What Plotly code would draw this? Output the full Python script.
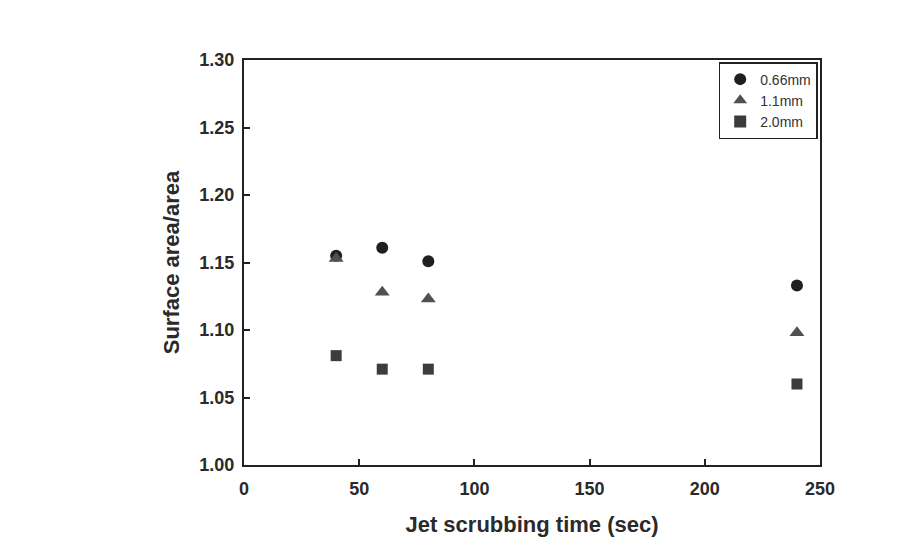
import plotly.graph_objects as go

time_sec = [40, 60, 80, 240]
d066 = [1.155, 1.161, 1.151, 1.133]
d11 = [1.153, 1.128, 1.123, 1.098]
d20 = [1.081, 1.071, 1.071, 1.060]

series = [
    ("0.66mm", d066, "circle", "#1f1f1f", 12),
    ("1.1mm", d11, "triangle-up", "#505050", 13),
    ("2.0mm", d20, "square", "#3c3c3c", 11),
]

fig = go.Figure()
for name, ys, sym, col, sz in series:
    fig.add_trace(go.Scatter(
        x=time_sec, y=ys, mode="markers", name=name,
        marker=dict(symbol=sym, size=sz, color=col, line=dict(width=0)),
    ))

FONT = "Liberation Sans, Arial"
axis_common = dict(
    showgrid=False, zeroline=False, showline=True, linecolor="#222",
    linewidth=2, mirror=True, ticks="inside", ticklen=6, tickwidth=1.5,
    tickcolor="#222",
    tickfont=dict(family=FONT, size=18, color="#2a2a2a", weight="bold"),
)

fig.update_layout(
    width=922, height=547,
    margin=dict(l=244, r=102, t=60, b=82),
    paper_bgcolor="white", plot_bgcolor="white",
    showlegend=True,
    legend=dict(
        x=0.996, y=0.995, xanchor="right", yanchor="top",
        bordercolor="#222", borderwidth=1.5, bgcolor="white",
        font=dict(family=FONT, size=14, color="#333"),
        itemsizing="constant", tracegroupgap=0, itemwidth=30,
    ),
    xaxis=dict(
        range=[0, 250], tickvals=[0, 50, 100, 150, 200, 250],
        ticklabelstandoff=6,
        title=dict(text="Jet scrubbing time (sec)", standoff=19,
                   font=dict(family=FONT, size=22, color="#2a2a2a", weight="bold")),
        **axis_common,
    ),
    yaxis=dict(
        range=[1.0, 1.3], tickvals=[1.0, 1.05, 1.10, 1.15, 1.20, 1.25, 1.30],
        tickformat=".2f", ticklabelstandoff=4,
        title=dict(text="Surface area/area", standoff=14,
                   font=dict(family=FONT, size=22, color="#2a2a2a", weight="bold")),
        **axis_common,
    ),
)

fig.write_html("out.html")
